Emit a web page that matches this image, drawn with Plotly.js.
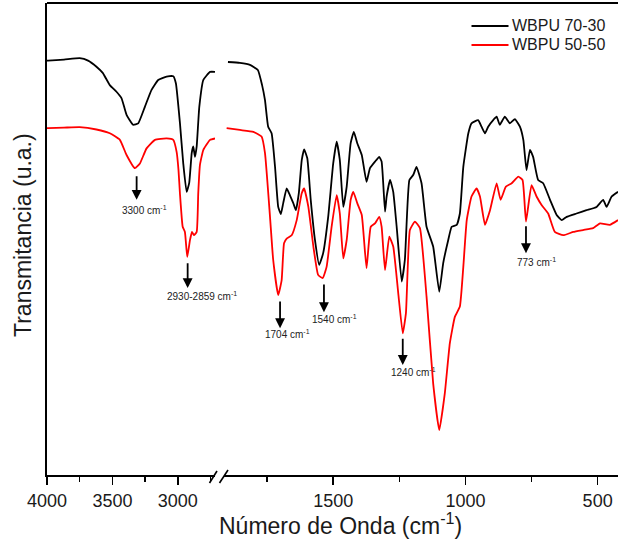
<!DOCTYPE html>
<html>
<head>
<meta charset="utf-8">
<script src="https://cdn.plot.ly/plotly-3.0.1.min.js"></script>
<style>html,body{margin:0;padding:0;background:#fff;}#chart{width:618px;height:539px;}</style>
</head>
<body>
<div id="chart"></div>
<script>
// ---- Data (transmittance in arbitrary units 0-100) ----
// High-wavenumber segment (4000 - 2716 cm-1)
var wnHigh70 = [4000,3992,3870,3750,3686,3622,3574,3520,3469,3430,3392,3342,3303,3252,3201,3150,3086,3035,3015,2984,2959,2933,2913,2894,2882,2869,2856,2836,2805,2754,2716];
var tHigh70  = [87.8,87.8,88.0,88.3,87.8,86.5,85.2,82.6,81.2,79.8,76.3,74.2,74.5,78.0,81.6,83.7,84.4,84.5,83.0,74.6,66.1,60.0,61.9,68.2,69.6,67.4,69.6,78.0,83.7,85.4,85.4];

var wnHigh50 = [4000,3992,3870,3750,3622,3520,3443,3392,3328,3290,3239,3175,3086,3035,3009,2995,2984,2963,2946,2928,2907,2892,2877,2856,2844,2831,2805,2754,2716];
var tHigh50  = [73.5,73.5,73.6,73.7,73.2,72.4,71.0,67.8,65.0,66.0,69.2,71.0,71.3,71.0,68.4,64.6,59.7,52.6,51.5,46.2,49.8,51.5,50.8,51.5,59.7,65.7,68.9,71.0,71.3];

// Fingerprint segment (1913 - 423 cm-1)
var wnLow70 = [1898,1853,1815,1785,1769,1758,1746,1733,1720,1708,1698,1689,1676,1664,1651,1641,1630,1619,1610,1598,1585,1569,1553,1538,1519,1500,1487,1475,1462,1449,1434,1422,1409,1392,1374,1361,1342,1326,1317,1304,1298,1285,1273,1260,1241,1229,1212,1197,1185,1166,1147,1122,1099,1084,1065,1052,1033,1021,1008,989,977,952,939,926,914,895,882,870,851,832,813,794,781,769,756,744,725,706,680,655,636,617,580,542,504,479,466,447,423];
var tLow70  = [87.5,87.3,86.9,85.8,82.6,79.4,73.8,72.4,65.3,56.8,55.3,57.6,60.7,59.3,57.6,56.1,59.7,66.7,69.0,67.1,58.3,49.8,44.5,47.0,54.7,66.0,70.6,66.7,56.8,61.1,70.3,72.7,70.3,67.8,62.1,65.0,66.4,67.4,66.4,55.8,59.0,62.5,60.0,52.6,41.0,45.6,62.5,63.6,65.3,61.8,52.6,48.4,38.8,44.9,49.8,52.6,53.0,55.4,65.3,72.4,74.5,75.2,73.8,72.4,73.8,75.2,75.9,74.2,75.9,74.5,75.4,73.8,71.0,64.6,68.9,67.4,62.5,61.8,58.3,55.1,54.0,54.7,55.4,56.1,56.8,58.3,56.8,59.0,60.0];

var wnLow50 = [1903,1853,1802,1771,1758,1739,1727,1708,1695,1686,1676,1657,1638,1619,1610,1594,1575,1557,1540,1525,1506,1487,1475,1462,1449,1434,1424,1409,1392,1374,1358,1342,1326,1317,1304,1288,1273,1254,1237,1225,1210,1191,1172,1147,1122,1099,1078,1059,1040,1021,1008,995,977,958,945,926,907,882,867,847,825,800,784,771,750,731,712,687,662,630,592,555,517,491,454,423];
var tLow50  = [73.5,73.1,72.7,71.7,68.2,54.7,45.6,38.1,41.3,49.1,50.1,50.8,54.0,59.7,60.7,56.8,48.4,42.4,41.7,44.1,52.6,59.3,55.4,45.9,49.8,58.3,60.0,57.6,55.1,43.8,52.6,53.3,54.7,52.6,43.4,50.5,48.4,38.5,30.0,34.3,51.9,53.7,52.3,37.8,19.4,9.5,17.3,27.9,33.5,35.7,44.1,54.0,59.0,60.7,59.0,53.0,56.1,61.8,58.3,61.1,61.8,63.2,62.5,53.7,61.4,59.0,57.2,55.4,51.5,50.8,51.5,51.9,52.3,53.3,53.0,54.0];

var seriesNames = ['WBPU 70-30', 'WBPU 50-50'];
var seriesColors = ['#000000', '#ff0000'];

// Peak markers
var peakLabels = ['3300 cm<sup>-1</sup>', '2930-2859 cm<sup>-1</sup>', '1704 cm<sup>-1</sup>', '1540 cm<sup>-1</sup>', '1240 cm<sup>-1</sup>', '773 cm<sup>-1</sup>'];
var peakAxis   = ['x', 'x', 'x2', 'x2', 'x2', 'x2'];
var peakX      = [3315, 2925, 1701, 1535, 1237, 771];
var arrowTail  = [63.6, 45.2, 37.1, 40.7, 29.2, 53.0];
var arrowTip   = [58.3, 39.6, 31.1, 34.5, 23.3, 47.0];
var labelX     = [3253, 2818, 1674, 1495, 1197, 730];
var labelY     = [56.1, 37.9, 29.9, 33.1, 21.9, 45.2];

// ---- Traces ----
function tr(x, y, i, xa) {
  return {x: x, y: y, xaxis: xa, yaxis: 'y', type: 'scatter', mode: 'lines',
    name: seriesNames[i], showlegend: false,
    line: {color: seriesColors[i], width: 1.8, shape: 'spline', smoothing: 0.4}, hoverinfo: 'skip'};
}
var data = [
  tr(wnHigh70, tHigh70, 0, 'x'),
  tr(wnHigh50, tHigh50, 1, 'x'),
  tr(wnLow70, tLow70, 0, 'x2'),
  tr(wnLow50, tLow50, 1, 'x2')
];

var W = 618, H = 539, mL = 47, mR = 0, mT = 3, mB = 64;
var pw = W - mL - mR, ph = H - mT - mB;
function px(X) { return (X - mL) / pw; }
function py(Y) { return (H - mB - Y) / ph; }

var fam = 'Liberation Sans, Arial, sans-serif';
var tickFont = {family: fam, size: 18, color: '#1a1a1a'};
var axCommon = {
  showline: true, linewidth: 2, linecolor: '#000', showgrid: false, zeroline: false,
  ticks: 'outside', ticklen: 8, tickwidth: 1.5, tickcolor: '#000',
  tick0: 0, dtick: 500, tickfont: tickFont, anchor: 'y',
  minor: {dtick: 250, ticks: 'outside', ticklen: 5, tickwidth: 1.5, tickcolor: '#000', showgrid: false},
  fixedrange: true
};

var annotations = [];
var shapes = [
  // top frame line
  {type: 'line', xref: 'paper', yref: 'paper', x0: 0, x1: 1, y0: 1, y1: 1, line: {color: '#000', width: 2}},
  // axis break marks
  {type: 'line', xref: 'paper', yref: 'paper', x0: px(209.5), y0: py(483), x1: px(217), y1: py(471), line: {color: '#000', width: 1.6}},
  {type: 'line', xref: 'paper', yref: 'paper', x0: px(219.5), y0: py(483), x1: px(228), y1: py(470), line: {color: '#000', width: 1.6}}
];

for (var i = 0; i < peakLabels.length; i++) {
  annotations.push({
    xref: peakAxis[i], yref: 'y', axref: peakAxis[i], ayref: 'y',
    x: peakX[i], y: arrowTip[i], ax: peakX[i], ay: arrowTail[i],
    text: '', showarrow: true, arrowhead: 2, arrowsize: 1.1, arrowwidth: 1.8, arrowcolor: '#000'
  });
  annotations.push({
    xref: peakAxis[i], yref: 'y', x: labelX[i], y: labelY[i],
    text: peakLabels[i], showarrow: false, xanchor: 'center', yanchor: 'middle',
    font: {family: fam, size: 10, color: '#222'}
  });
}

// legend (drawn as keys + labels)
var legendRowsY = [26, 45];
for (var k = 0; k < seriesNames.length; k++) {
  shapes.push({type: 'line', xref: 'paper', yref: 'paper',
    x0: px(471.5), x1: px(508.5), y0: py(legendRowsY[k]), y1: py(legendRowsY[k]),
    line: {color: seriesColors[k], width: 2}});
  annotations.push({xref: 'paper', yref: 'paper', x: px(510), y: py(legendRowsY[k]),
    xanchor: 'left', yanchor: 'middle', text: seriesNames[k], showarrow: false,
    font: {family: fam, size: 16, color: '#1a1a1a'}});
}

annotations.push({
  xref: 'paper', yref: 'paper', x: px(340), y: py(524), xanchor: 'center', yanchor: 'middle',
  text: 'Número de Onda (cm<sup>-1</sup>)', showarrow: false,
  font: {family: fam, size: 23, color: '#1a1a1a'}
});
annotations.push({
  xref: 'paper', yref: 'paper', x: px(23), y: py(235), xanchor: 'center', yanchor: 'middle',
  text: 'Transmitancia (u.a.)', textangle: -90, showarrow: false,
  font: {family: fam, size: 23, color: '#1a1a1a'}
});

var layout = {
  width: W, height: H,
  margin: {l: mL, r: mR, t: mT, b: mB, pad: 0},
  paper_bgcolor: '#fff', plot_bgcolor: '#fff',
  showlegend: false,
  xaxis: Object.assign({}, axCommon, {domain: [0, px(215)], range: [4000, 2716]}),
  xaxis2: Object.assign({}, axCommon, {domain: [px(224), 1], range: [1913, 423]}),
  yaxis: {domain: [0, 1], range: [0, 100], showline: true, linewidth: 2, linecolor: '#000',
    showticklabels: false, ticks: '', showgrid: false, zeroline: false, fixedrange: true},
  annotations: annotations,
  shapes: shapes
};

Plotly.newPlot('chart', data, layout, {displayModeBar: false, staticPlot: true});
</script>
</body>
</html>
